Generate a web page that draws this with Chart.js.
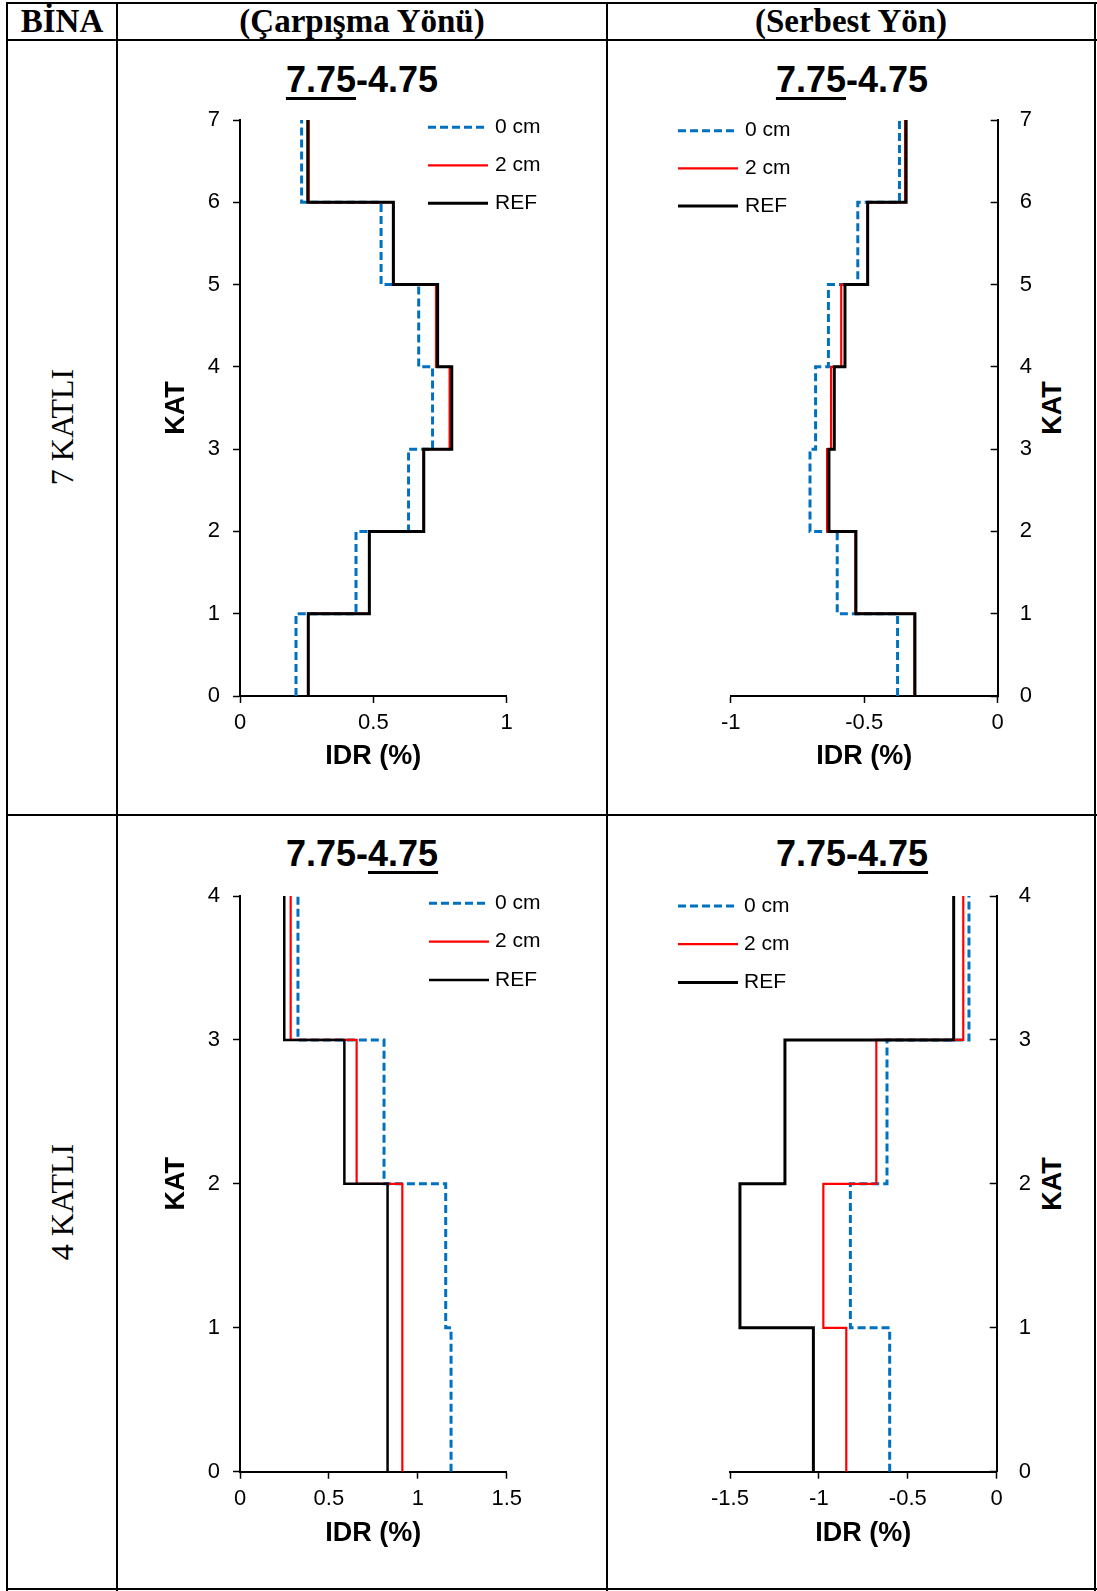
<!DOCTYPE html>
<html lang="tr">
<head>
<meta charset="UTF-8">
<title>IDR - KAT</title>
<script src="https://cdn.jsdelivr.net/npm/chart.js"></script>
<style>
    body { margin: 0; background: #fff; font-family: 'Liberation Sans', Arial, sans-serif; }
    #page { position: relative; width: 1097px; height: 1591px; overflow: hidden; background: #fff; }
    .ln { position: absolute; background: #000; }
    .head { position: absolute; top: 3px; height: 37px; line-height: 37px; text-align: center;
            font-family: 'Liberation Serif', 'Times New Roman', serif; font-weight: bold; font-size: 33px; }
    .rowlab { position: absolute; white-space: nowrap; font-family: 'Liberation Serif', 'Times New Roman', serif;
              font-size: 32px; transform: translate(-50%, -50%) rotate(-90deg); }
    .ttl { position: absolute; width: 300px; text-align: center; font-weight: bold; font-size: 36px; line-height: 36px; }
    .ttl u { text-decoration-thickness: 3px; text-underline-offset: 5px; }
    .kat { position: absolute; font-weight: bold; font-size: 27px; white-space: nowrap;
           transform: translate(-50%, -50%) rotate(-90deg); }
    canvas { position: absolute; }
</style>
</head>
<body>
<div id="page">
    <!-- tablo çizgileri -->
    <div class="ln" style="left:6px;top:2px;width:1091px;height:2px"></div>
    <div class="ln" style="left:6px;top:39px;width:1091px;height:2px"></div>
    <div class="ln" style="left:6px;top:814px;width:1091px;height:2px"></div>
    <div class="ln" style="left:6px;top:1588px;width:1091px;height:2px"></div>
    <div class="ln" style="left:6px;top:2px;width:2px;height:1589px"></div>
    <div class="ln" style="left:116px;top:2px;width:2px;height:1589px"></div>
    <div class="ln" style="left:606px;top:2px;width:2px;height:1589px"></div>
    <div class="ln" style="left:1094px;top:2px;width:2px;height:1589px"></div>

    <div class="head" style="left:8px;width:108px">BİNA</div>
    <div class="head" style="left:118px;width:488px">(Çarpışma Yönü)</div>
    <div class="head" style="left:608px;width:486px">(Serbest Yön)</div>

    <div class="rowlab" style="left:62px;top:427px">7 KATLI</div>
    <div class="rowlab" style="left:62px;top:1202px">4 KATLI</div>

    <div class="ttl" style="left:212px;top:62px"><u>7.75</u>-4.75</div>
    <div class="ttl" style="left:702px;top:62px"><u>7.75</u>-4.75</div>
    <div class="ttl" style="left:212px;top:836px">7.75-<u>4.75</u></div>
    <div class="ttl" style="left:702px;top:836px">7.75-<u>4.75</u></div>

    <div class="kat" style="left:1052px;top:408px">KAT</div>
    <div class="kat" style="left:1052px;top:1184px">KAT</div>
</div>

<script>
    // seri isimleri
    var seriesLabels = ['0 cm', '2 cm', 'REF'];

    // 7 katlı - çarpışma yönü (kat 1..7)
    var col7_0cm = [0.21, 0.435, 0.632, 0.722, 0.67, 0.529, 0.231];
    var col7_2cm = [0.256, 0.484, 0.688, 0.786, 0.735, 0.576, 0.258];
    var col7_ref = [0.256, 0.485, 0.689, 0.794, 0.741, 0.575, 0.254];

    // 7 katlı - serbest yön
    var free7_0cm = [-0.375, -0.601, -0.703, -0.682, -0.634, -0.524, -0.368];
    var free7_2cm = [-0.312, -0.533, -0.639, -0.624, -0.586, -0.487, -0.347];
    var free7_ref = [-0.31, -0.531, -0.632, -0.612, -0.572, -0.487, -0.343];

    // 4 katlı - çarpışma yönü (kat 1..4)
    var col4_0cm = [1.187, 1.157, 0.81, 0.326];
    var col4_2cm = [0.913, 0.913, 0.656, 0.285];
    var col4_ref = [0.83, 0.83, 0.587, 0.249];

    // 4 katlı - serbest yön
    var free4_0cm = [-0.602, -0.823, -0.617, -0.156];
    var free4_2cm = [-0.846, -0.975, -0.677, -0.188];
    var free4_ref = [-1.031, -1.444, -1.191, -0.242];

    var tickFont = { family: "'Liberation Sans', Arial, sans-serif", size: 22 };
    var axisTitleFont = { family: "'Liberation Sans', Arial, sans-serif", size: 27, weight: 'bold' };

    // her kat için sabit IDR değeri -> basamaklı profil
    function steps(vals) {
        var pts = [];
        vals.forEach(function (v, i) {
            pts.push({ x: v, y: i });
            pts.push({ x: v, y: i + 1 });
        });
        return pts;
    }

    function fmt(v) {
        return String(Math.round(v * 100) / 100);
    }

    // grafiğin içindeki açıklama (lejant)
    var innerLegend = {
        id: 'innerLegend',
        afterDraw: function (chart, args, o) {
            var ctx = chart.ctx;
            ctx.save();
            chart.data.datasets.forEach(function (d, i) {
                var y = o.y + i * o.rowH;
                ctx.beginPath();
                ctx.setLineDash(d.borderDash || []);
                ctx.strokeStyle = d.borderColor;
                ctx.lineWidth = d.borderWidth;
                ctx.moveTo(o.x, y);
                ctx.lineTo(o.x + o.len, y);
                ctx.stroke();
                ctx.setLineDash([]);
                ctx.fillStyle = '#000';
                ctx.font = "21px 'Liberation Sans', Arial, sans-serif";
                ctx.textBaseline = 'middle';
                ctx.fillText(d.label, o.x + o.len + o.gap, y);
            });
            ctx.restore();
        }
    };

    function drawChart(c) {
        var cv = document.createElement('canvas');
        cv.width = c.w;
        cv.height = c.h;
        cv.style.left = c.left + 'px';
        cv.style.top = c.top + 'px';
        document.getElementById('page').appendChild(cv);

        var right = c.yPos === 'right';
        var ds = [
            { label: seriesLabels[0], data: steps(c.v0), borderColor: '#0070C0', borderWidth: 3, borderDash: [8, 4], order: 3 },
            { label: seriesLabels[1], data: steps(c.v2), borderColor: '#FF0000', borderWidth: 2.2, order: 2 },
            { label: seriesLabels[2], data: steps(c.vref), borderColor: '#000000', borderWidth: c.refW, order: 1 }
        ];
        ds.forEach(function (d) {
            d.pointRadius = 0;
            d.fill = false;
            d.tension = 0;
            d.borderCapStyle = 'butt';
            d.borderJoinStyle = 'miter';
        });

        new Chart(cv, {
            type: 'line',
            data: { datasets: ds },
            options: {
                responsive: false,
                animation: false,
                events: [],
                layout: { padding: c.pad },
                plugins: {
                    legend: { display: false },
                    tooltip: { enabled: false },
                    innerLegend: c.legend
                },
                scales: {
                    x: {
                        type: 'linear', position: 'bottom', min: c.xMin, max: c.xMax,
                        ticks: { stepSize: 0.5, color: '#000', font: tickFont, padding: 6.8, maxRotation: 0, callback: fmt },
                        grid: { drawOnChartArea: false, tickLength: 7, tickColor: '#000', tickWidth: 1.5 },
                        border: { color: '#000', width: 2 },
                        title: { display: true, text: 'IDR (%)', color: '#000', font: axisTitleFont, padding: 0 },
                        afterFit: function (s) {
                            s.height = c.xH;
                            s.paddingLeft = 0;
                            s.paddingRight = 0;
                        }
                    },
                    y: {
                        type: 'linear', position: c.yPos, min: 0, max: c.yMax,
                        ticks: { stepSize: 1, color: '#000', font: tickFont, padding: right ? 29 : 13, callback: fmt },
                        grid: { drawOnChartArea: false, tickLength: right ? -7 : 7, tickColor: '#000', tickWidth: 1.5 },
                        border: { color: '#000', width: 2 },
                        title: { display: !right, text: 'KAT', color: '#000', font: axisTitleFont, padding: { top: 20, bottom: 0 } },
                        afterFit: function (s) {
                            s.width = c.yW;
                            s.paddingTop = 12;
                            s.paddingBottom = 12;
                        }
                    }
                }
            },
            plugins: [innerLegend]
        });
    }

    drawChart({
        left: 140, top: 100, w: 440, h: 700, yPos: 'left', yW: 100, xH: 76.9,
        pad: { left: 0, top: 20, right: 73.3, bottom: 27.1 },
        xMin: 0, xMax: 1, yMax: 7, refW: 3,
        v0: col7_0cm, v2: col7_2cm, vref: col7_ref,
        legend: { x: 288, y: 27.3, len: 60, gap: 7, rowH: 38 }
    });
    drawChart({
        left: 620, top: 100, w: 470, h: 700, yPos: 'right', yW: 60, xH: 76.9,
        pad: { left: 110.7, top: 20, right: 32.3, bottom: 27.1 },
        xMin: -1, xMax: 0, yMax: 7, refW: 3,
        v0: free7_0cm, v2: free7_2cm, vref: free7_ref,
        legend: { x: 58, y: 30.7, len: 60, gap: 7, rowH: 37.7 }
    });
    drawChart({
        left: 140, top: 876, w: 440, h: 700, yPos: 'left', yW: 100, xH: 77.8,
        pad: { left: 0, top: 20, right: 73.3, bottom: 26.5 },
        xMin: 0, xMax: 1.5, yMax: 4, refW: 2.5,
        v0: col4_0cm, v2: col4_2cm, vref: col4_ref,
        legend: { x: 289, y: 27.3, len: 60, gap: 6, rowH: 38.4 }
    });
    drawChart({
        left: 620, top: 876, w: 470, h: 700, yPos: 'right', yW: 60, xH: 77.8,
        pad: { left: 110, top: 20, right: 33.3, bottom: 26.5 },
        xMin: -1.5, xMax: 0, yMax: 4, refW: 3,
        v0: free4_0cm, v2: free4_2cm, vref: free4_ref,
        legend: { x: 58, y: 30, len: 60, gap: 6, rowH: 38.2 }
    });
</script>
</body>
</html>
